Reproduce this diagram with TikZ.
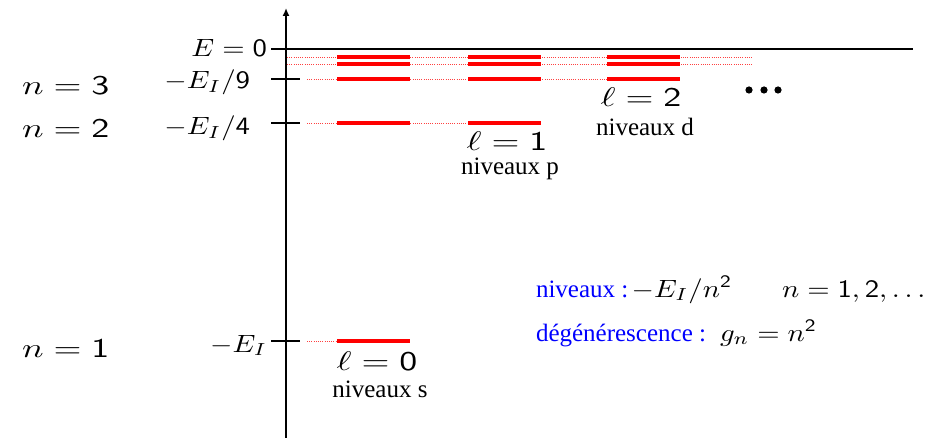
\documentclass[tikz,border=0pt]{standalone}
\usepackage{fontspec}
\setmainfont{Liberation Serif}
\usepackage{graphicx}
\usetikzlibrary{arrows.meta}
\newcommand{\mlabA}[1]{\scalebox{3.59}[2.7]{$#1$}}
\newcommand{\mtickA}[1]{\scalebox{2.875}[2.5]{$#1$}}
\newcommand{\ttxtA}[1]{{\fontsize{25}{28}\selectfont #1}}
\begin{document}
\begin{tikzpicture}[x=1pt,y=-1pt,
  axisline/.style={line width=2pt,black},
  level/.style={line width=4pt,red},
  guide/.style={red!75,line width=0.8pt,dash pattern=on 1pt off 1.2pt},
  lab/.style={inner sep=0pt,outer sep=0pt}]
\useasboundingbox (0,0) rectangle (936,438);
% axis
\coordinate (ybot) at (286,438);
\coordinate (ytop) at (286,8);
\draw[axisline,-{Latex[length=8pt,width=7pt]}] (ybot) -- (ytop);
\coordinate (e0l) at (271,49.5);
\coordinate (e0r) at (913,49.5);
\draw[axisline] (e0l) -- (e0r);
% ticks
\foreach \nm/\yy in {t3/79,t2/123,t1/341}{
  \coordinate (\nm l) at (271,\yy);
  \coordinate (\nm r) at (300,\yy);
  \draw[axisline] (\nm l) -- (\nm r);
}
% guide (dotted) lines
\foreach \nm/\yy/\xa/\xb in {g5/57/287/752,g4/64/287/752,g3/79/307/680,g2/123/307/541,g1/341/307/410}{
  \coordinate (\nm a) at (\xa,\yy);
  \coordinate (\nm b) at (\xb,\yy);
  \draw[guide] (\nm a) -- (\nm b);
}
% levels: s column
\foreach \nm/\yy in {s5/57,s4/64,s3/79,s2/123,s1/341}{
  \coordinate (\nm a) at (337,\yy); \coordinate (\nm b) at (410,\yy);
  \draw[level] (\nm a) -- (\nm b);
}
% p column
\foreach \nm/\yy in {p5/57,p4/64,p3/79,p2/123}{
  \coordinate (\nm a) at (468,\yy); \coordinate (\nm b) at (541,\yy);
  \draw[level] (\nm a) -- (\nm b);
}
% d column
\foreach \nm/\yy in {d5/57,d4/64,d3/79}{
  \coordinate (\nm a) at (607,\yy); \coordinate (\nm b) at (680,\yy);
  \draw[level] (\nm a) -- (\nm b);
}
% tick labels
\node[lab,anchor=base east] (le0) at (267,57) {\mtickA{E=\mathsf{0}}};
\node[lab,anchor=base east] (le9) at (250,89) {\mtickA{-E_I/\mathsf{9}}};
\node[lab,anchor=base east] (le4) at (250,135) {\mtickA{-E_I/\mathsf{4}}};
\node[lab,anchor=base east] (le1) at (267,352) {\mtickA{-E_I}};
% n labels
\node[lab,anchor=base west] (n3) at (22,95) {\mlabA{n=\mathsf{3}}};
\node[lab,anchor=base west] (n2) at (22,138) {\mlabA{n=\mathsf{2}}};
\node[lab,anchor=base west] (n1) at (22,357) {\mlabA{n=\mathsf{1}}};
% l labels
\node[lab,anchor=base] (l0) at (377,370) {\mlabA{\ell=\mathsf{0}}};
\node[lab,anchor=base] (l1) at (507,151) {\mlabA{\ell=\mathsf{1}}};
\node[lab,anchor=base] (l2) at (641,107) {\mlabA{\ell=\mathsf{2}}};
\node[lab,anchor=base] (ns) at (380,397) {\ttxtA{niveaux s}};
\node[lab,anchor=base] (np) at (510,175) {\ttxtA{niveaux p}};
\node[lab,anchor=base] (nd) at (645,136) {\ttxtA{niveaux d}};
% dots
\foreach \nm/\xx in {dot1/749,dot2/764,dot3/778}{
  \coordinate (\nm) at (\xx,90);
  \fill (\nm) circle (3.6);
}
% legend
\node[lab,anchor=base west] (leg1) at (536,297) {\ttxtA{\textcolor{blue}{niveaux :}} \mtickA{-E_I/n^{\mathsf{2}}}};
\node[lab,anchor=base west] (leg1b) at (782,297) {\mtickA{n=\mathsf{1},\mathsf{2},\ldots}};
\node[lab,anchor=base west] (leg2) at (536,341) {\ttxtA{\textcolor{blue}{dégénérescence :}}\hspace{14pt}\mtickA{g_n=n^{\mathsf{2}}}};
\end{tikzpicture}
\end{document}
